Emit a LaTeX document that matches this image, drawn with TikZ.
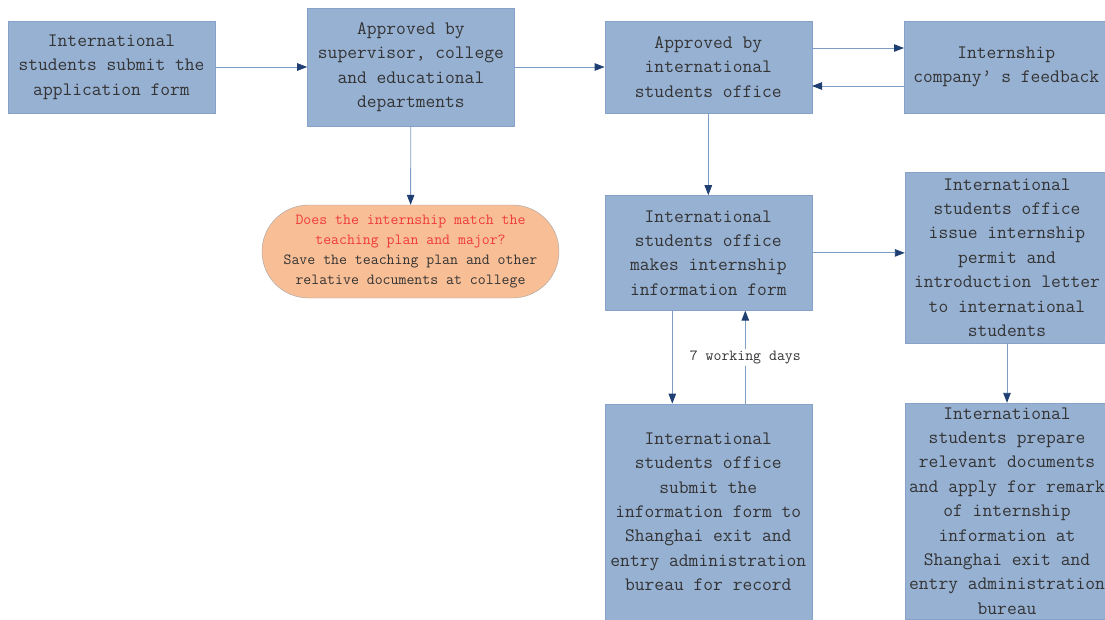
\documentclass[tikz,border=0pt]{standalone}
\usepackage{xcolor}
\usetikzlibrary{positioning, arrows.meta, shapes.misc}

\definecolor{boxfill}{HTML}{97B1D3}
\definecolor{boxline}{HTML}{86A2C8}
\definecolor{linkline}{HTML}{7E9DC4}
\definecolor{tipnavy}{HTML}{1F3F73}
\definecolor{pillfill}{HTML}{F8BE96}
\definecolor{pillline}{HTML}{A5A5A5}
\definecolor{txtgray}{HTML}{333333}
\definecolor{askred}{HTML}{F03A3A}

\begin{document}
\begin{tikzpicture}[
    x=1pt, y=-1pt,
    node distance=82pt and 92pt,
    box/.style={rectangle, draw=boxline, fill=boxfill, minimum width=207pt, minimum height=92pt, inner sep=1pt, align=center, text=txtgray, font=\ttfamily\fontsize{19}{24.4}\selectfont},
    sidebox/.style={box, minimum width=204pt},
    pill/.style={rounded rectangle, draw=pillline, fill=pillfill, minimum width=299pt, minimum height=93pt, inner sep=1pt, align=center, text=txtgray, font=\ttfamily\fontsize{15.4}{19.8}\selectfont},
    lbl/.style={fill=white, inner sep=2pt, text=txtgray, font=\ttfamily\fontsize{15.4}{16}\selectfont},
    arrow/.style={draw=linkline, line width=0.9pt, -{Triangle[length=10pt, width=7.5pt, color=tipnavy]}}
]
\useasboundingbox (0,0) rectangle (1105,619);

% Top row
\node[box] (apply) at (111.5,67) {International\\students submit the\\application form};
\node[box, minimum height=118pt, right=92pt of apply] (approve) {Approved by\\supervisor, college\\and educational\\departments};
\node[box, right=90pt of approve] (office) {Approved by\\international\\students office};
\node[sidebox, right=92pt of office] (feedback) {Internship\\company’ s feedback};

% Check at college
\node[pill] (check) at (410.5,251.5) {\textcolor{askred}{Does the internship match the}\\\textcolor{askred}{teaching plan and major?}\\Save the teaching plan and other\\relative documents at college};

% Office steps
\node[box, minimum height=115pt, below=of office] (infoform) {International\\students office\\makes internship\\information form};
\node[sidebox, minimum height=171pt] (permit) at (1007,257.5) {International\\students office\\issue internship\\permit and\\introduction letter\\to international\\students};
\node[sidebox, minimum height=216pt] (remark) at (1007,511) {International\\students prepare\\relevant documents\\and apply for remark\\of internship\\information at\\Shanghai exit and\\entry administration\\bureau};
\node[box, minimum height=216pt, below=93pt of infoform] (record) {International\\students office\\submit the\\information form to\\Shanghai exit and\\entry administration\\bureau for record};

% Paths
\draw[arrow] (apply) -- (approve);
\draw[arrow] (approve) -- (office);
\draw[arrow] ([yshift=19pt]office.east) -- ([yshift=19pt]office.east -| feedback.west);
\draw[arrow] ([yshift=-19pt]feedback.west) -- ([yshift=-19pt]feedback.west -| office.east);
\draw[arrow] (approve) -- (check);
\draw[arrow] (office) -- (infoform);
\draw[arrow] (infoform.east) -- (infoform.east -| permit.west);
\draw[arrow] ([xshift=-36pt]infoform.south) -- ([xshift=-36pt]infoform.south |- record.north);
\draw[arrow] ([xshift=37pt]record.north) -- node[lbl] {7 working days} ([xshift=37pt]record.north |- infoform.south);
\draw[arrow] (permit.south) -- (permit.south |- remark.north);

\end{tikzpicture}
\end{document}
